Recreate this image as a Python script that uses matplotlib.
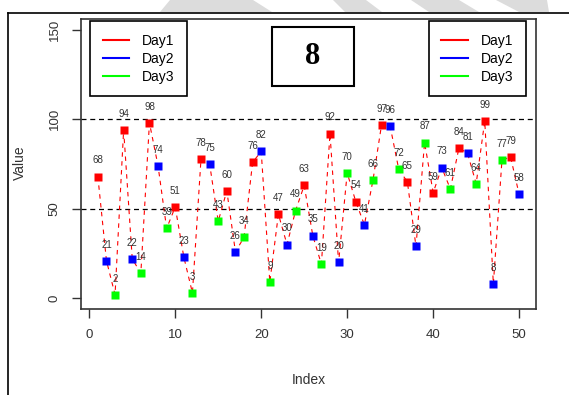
import matplotlib.pyplot as plt
from matplotlib.patches import Polygon, Rectangle
from matplotlib.lines import Line2D

plt.rcParams['font.family'] = ['Liberation Sans', 'DejaVu Sans']

# data
index = list(range(1, 51))
values = [68, 21, 2, 94, 22, 14, 98, 74, 39, 51,
          23, 3, 78, 75, 43, 60, 26, 34, 76, 82,
          9, 47, 30, 49, 63, 35, 19, 92, 20, 70,
          54, 41, 66, 97, 96, 72, 65, 29, 87, 59,
          73, 61, 84, 81, 64, 99, 8, 77, 79, 58]
day = [1, 2, 3, 1, 2, 3, 1, 2, 3, 1,
       2, 3, 1, 2, 3, 1, 2, 3, 1, 2,
       3, 1, 2, 3, 1, 2, 3, 1, 2, 3,
       1, 2, 3, 1, 2, 3, 1, 2, 3, 1,
       2, 3, 1, 2, 3, 1, 2, 3, 1, 2]
day_names = ['Day1', 'Day2', 'Day3']
day_colors = ['#ff0000', '#0000ff', '#00ff00']
ref_lines = [50, 100]
xticks = [0, 10, 20, 30, 40, 50]
yticks = [0, 50, 100, 150]
box_label = '8'

W, H = 569, 395


def fx(px):
    return px / W


def fy(py):
    return 1 - py / H


fig = plt.figure(figsize=(W / 100, H / 100), dpi=100)

# faint watermark stripes at the very top and the outer frame
stripes = [[(170, 0), (253, 0), (272, 12), (160, 12)],
           [(333, 0), (366, 0), (382, 12), (345, 12)],
           [(411, 0), (459, 0), (479, 12), (429, 12)],
           [(496, 0), (547, 0), (549, 12), (519, 12)]]
for s in stripes:
    fig.add_artist(Polygon([(fx(a), fy(b)) for a, b in s], closed=True,
                           transform=fig.transFigure, fc='#dcdcdc', ec='none'))
fig.add_artist(Line2D([fx(8), 1], [fy(12.7), fy(12.7)], transform=fig.transFigure,
                      color='black', lw=1.2))
fig.add_artist(Line2D([fx(8), fx(8)], [fy(12.7), 0], transform=fig.transFigure,
                      color='black', lw=1.2))

ax = fig.add_axes([fx(81), fy(309), fx(536) - fx(81), fy(19) - fy(309)])

# red dashed path through all points, then the squares
ax.plot(index, values, color='#ff0000', lw=0.8, ls=(0, (4, 4)), zorder=2)
for x, y, d in zip(index, values, day):
    ax.plot(x, y, marker='s', ms=5.4, color=day_colors[d - 1], mec='none', zorder=3)
    ax.text(x, y + 9, str(y), ha='center', va='center', fontsize=7, color='#333333', zorder=4)

for r in ref_lines:
    ax.axhline(r, color='black', lw=0.9, ls=(0, (4, 3)), zorder=1)

ax.set_xlim(-0.96, 51.96)
ax.set_ylim(-6, 156)
ax.set_xticks(xticks)
ax.set_yticks(yticks)
ax.tick_params(length=6.5, width=1, pad=8, labelsize=9.5, colors='#333333')
ax.tick_params(axis='y', labelrotation=90)
for lab in ax.get_yticklabels():
    lab.set_va('center')
for sp in ax.spines.values():
    sp.set_color('#333333')
    sp.set_linewidth(1.2)

ax.set_xlabel('Index', fontsize=10, color='#333333')
ax.xaxis.label.set_va('center')
ax.xaxis.set_label_coords(0.5, -(380 - 309) / 290)
ax.set_ylabel('Value', fontsize=10, color='#333333')
ax.yaxis.label.set_va('center')
ax.yaxis.set_label_coords(-(81 - 20) / 455, (309 - 163) / 290)

handles = [Line2D([], [], color=c, lw=1.5) for c in day_colors]
leg_kw = dict(fontsize=10, frameon=True, fancybox=False, framealpha=1,
              edgecolor='black', borderaxespad=0, handlelength=1.9,
              handletextpad=0.95, labelspacing=0.3, borderpad=0.9,
              bbox_transform=fig.transFigure)
leg1 = ax.legend(handles, day_names, loc='upper left',
                 bbox_to_anchor=(fx(90), fy(21)), **leg_kw)
leg1.get_frame().set_linewidth(1.2)
ax.add_artist(leg1)
leg2 = ax.legend(handles, day_names, loc='upper right',
                 bbox_to_anchor=(fx(526), fy(21)), **leg_kw)
leg2.get_frame().set_linewidth(1.2)

# the boxed number in the middle
fig.add_artist(Rectangle((fx(272), fy(86)), fx(354) - fx(272), fy(27) - fy(86),
                         transform=fig.transFigure, fill=False, ec='black', lw=1.5))
fig.text(fx(313), fy(57), box_label, ha='center', va='center', fontsize=22,
         fontweight='bold', family='Liberation Serif')

fig.savefig('out.png', dpi=100)
